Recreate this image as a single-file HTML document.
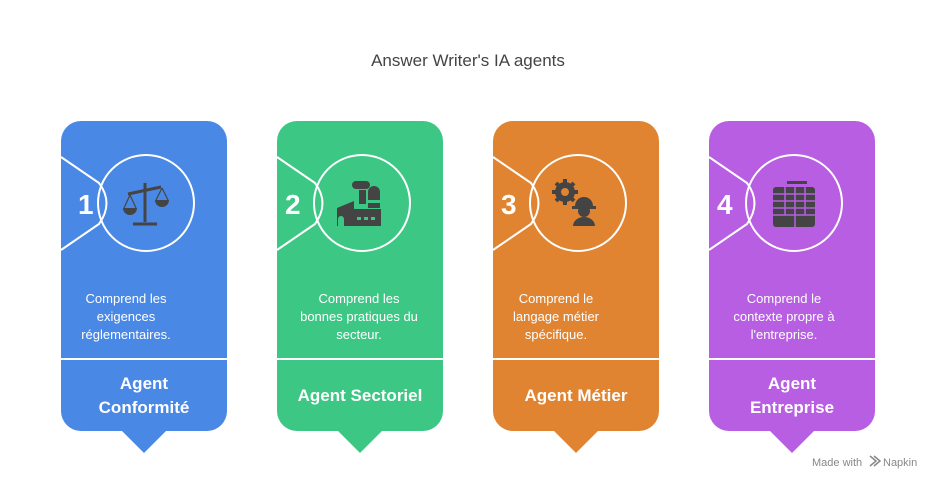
<!DOCTYPE html>
<html><head><meta charset="utf-8"><style>
html,body{margin:0;padding:0;background:#fff;}
svg{display:block;font-family:"Liberation Sans",Arial,sans-serif;}
</style></head><body>
<svg width="936" height="480" viewBox="0 0 936 480" xmlns="http://www.w3.org/2000/svg">
<text x="468" y="66" text-anchor="middle" font-size="17" fill="#444">Answer Writer's IA agents</text>

<!-- card template -->
<g transform="translate(61,0)">
  <rect x="0" y="121" width="166" height="310" rx="20" fill="#4A88E5"/>
  <path d="M60,430 L83,453 L106,430 Z" fill="#4A88E5"/>
  <line x1="0" y1="359" x2="166" y2="359" stroke="#fff" stroke-width="2"/>
  <path d="M0,157 L38,183 Q53,203 38,224 L0,250" fill="none" stroke="#fff" stroke-width="2"/>
  <circle cx="85" cy="203" r="48" fill="none" stroke="#fff" stroke-width="2"/>
  <text x="17" y="214" font-size="28" font-weight="bold" fill="#fff">1</text>
  <g fill="#444" stroke="#444">
    <line x1="84" y1="183" x2="84" y2="222" stroke-width="3"/>
    <line x1="72" y1="224" x2="96" y2="224" stroke-width="3"/>
    <line x1="67" y1="194" x2="100" y2="187" stroke-width="3"/>
    <path d="M62,208 A7,7 0 0 0 76,208 Z" stroke="none"/>
    <path d="M94,200 A7,7 0 0 0 108,200 Z" stroke="none"/>
    <path d="M69,195 L63,208 M69,195 L75,208 M101,188 L95,200 M101,188 L107,200" fill="none" stroke-width="1.2"/>
  </g>
  <g font-size="13" fill="#fff" text-anchor="middle">
    <text x="65" y="303">Comprend les</text>
    <text x="65" y="321">exigences</text>
    <text x="65" y="339">réglementaires.</text>
  </g>
  <g font-size="17" font-weight="bold" fill="#fff" text-anchor="middle">
    <text x="83" y="389">Agent</text>
    <text x="83" y="413">Conformité</text>
  </g>
</g>

<g transform="translate(277,0)">
  <rect x="0" y="121" width="166" height="310" rx="20" fill="#3DC785"/>
  <path d="M60,430 L83,453 L106,430 Z" fill="#3DC785"/>
  <line x1="0" y1="359" x2="166" y2="359" stroke="#fff" stroke-width="2"/>
  <path d="M0,157 L38,183 Q53,203 38,224 L0,250" fill="none" stroke="#fff" stroke-width="2"/>
  <circle cx="85" cy="203" r="48" fill="none" stroke="#fff" stroke-width="2"/>
  <text x="8" y="214" font-size="28" font-weight="bold" fill="#fff">2</text>
  <g fill="#444">
    <rect x="75" y="181" width="18" height="8" rx="4"/>
    <path d="M82,190 h7 v14 h-7z"/>
    <path d="M91,200 v-8 a6,6 0 0 1 12,0 v8z"/>
    <path d="M91,203 h12 v5 h-12z"/>
    <path d="M60,226 v-18 l17,-7 v8 h27 v17 h-37 v-7 a3,3 0 0 0 -6,0 v7z"/>
  </g>
  <g fill="#3DC785"><rect x="80" y="217" width="4" height="3"/><rect x="87" y="217" width="4" height="3"/><rect x="94" y="217" width="4" height="3"/></g>
  <g font-size="13" fill="#fff" text-anchor="middle">
    <text x="82" y="303">Comprend les</text>
    <text x="82" y="321">bonnes pratiques du</text>
    <text x="82" y="339">secteur.</text>
  </g>
  <text x="83" y="401" font-size="17" font-weight="bold" fill="#fff" text-anchor="middle">Agent Sectoriel</text>
</g>

<g transform="translate(493,0)">
  <rect x="0" y="121" width="166" height="310" rx="20" fill="#E08431"/>
  <path d="M60,430 L83,453 L106,430 Z" fill="#E08431"/>
  <line x1="0" y1="359" x2="166" y2="359" stroke="#fff" stroke-width="2"/>
  <path d="M0,157 L38,183 Q53,203 38,224 L0,250" fill="none" stroke="#fff" stroke-width="2"/>
  <circle cx="85" cy="203" r="48" fill="none" stroke="#fff" stroke-width="2"/>
  <text x="8" y="214" font-size="28" font-weight="bold" fill="#fff">3</text>
  <g fill="#444">
    <circle cx="72" cy="192" r="10"/>
    <g stroke="#444" stroke-width="4">
      <line x1="72" y1="179" x2="72" y2="205"/><line x1="59" y1="192" x2="85" y2="192"/>
      <line x1="63" y1="183" x2="81" y2="201"/><line x1="81" y1="183" x2="63" y2="201"/>
    </g>
    <circle cx="72" cy="192" r="4" fill="#E08431"/>
    <path d="M82,206 a9,9 0 0 1 18,0 h3 v3 h-24 v-3z"/>
    <circle cx="91" cy="211" r="6"/>
    <path d="M80,226 a11,9 0 0 1 22,0z"/>
  </g>
  <g font-size="13" fill="#fff" text-anchor="middle">
    <text x="63" y="303">Comprend le</text>
    <text x="63" y="321">langage métier</text>
    <text x="63" y="339">spécifique.</text>
  </g>
  <text x="83" y="401" font-size="17" font-weight="bold" fill="#fff" text-anchor="middle">Agent Métier</text>
</g>

<g transform="translate(709,0)">
  <rect x="0" y="121" width="166" height="310" rx="20" fill="#B75EE3"/>
  <path d="M60,430 L83,453 L106,430 Z" fill="#B75EE3"/>
  <line x1="0" y1="359" x2="166" y2="359" stroke="#fff" stroke-width="2"/>
  <path d="M0,157 L38,183 Q53,203 38,224 L0,250" fill="none" stroke="#fff" stroke-width="2"/>
  <circle cx="85" cy="203" r="48" fill="none" stroke="#fff" stroke-width="2"/>
  <text x="8" y="214" font-size="28" font-weight="bold" fill="#fff">4</text>
  <g fill="#444">
    <rect x="78" y="181" width="20" height="3"/>
    <rect x="64" y="187" width="42" height="40" rx="3"/>
  </g>
  <g stroke="#B75EE3" stroke-width="1.5">
    <line x1="64" y1="194" x2="106" y2="194"/><line x1="64" y1="201" x2="106" y2="201"/>
    <line x1="64" y1="208" x2="106" y2="208"/><line x1="64" y1="215" x2="106" y2="215"/>
    <line x1="76" y1="187" x2="76" y2="215"/><line x1="86" y1="187" x2="86" y2="227"/><line x1="96" y1="187" x2="96" y2="215"/>
  </g>
  <g font-size="13" fill="#fff" text-anchor="middle">
    <text x="75" y="303">Comprend le</text>
    <text x="75" y="321">contexte propre à</text>
    <text x="75" y="339">l'entreprise.</text>
  </g>
  <g font-size="17" font-weight="bold" fill="#fff" text-anchor="middle">
    <text x="83" y="389">Agent</text>
    <text x="83" y="413">Entreprise</text>
  </g>
</g>

<text x="812" y="466" font-size="11" fill="#888">Made with</text>
<path d="M870,456 l6,5 l-6,5 M874,456 l6,5 l-6,5" stroke="#888" stroke-width="1.5" fill="none"/>
<text x="883" y="466" font-size="11" fill="#888">Napkin</text>
</svg>
</body></html>
